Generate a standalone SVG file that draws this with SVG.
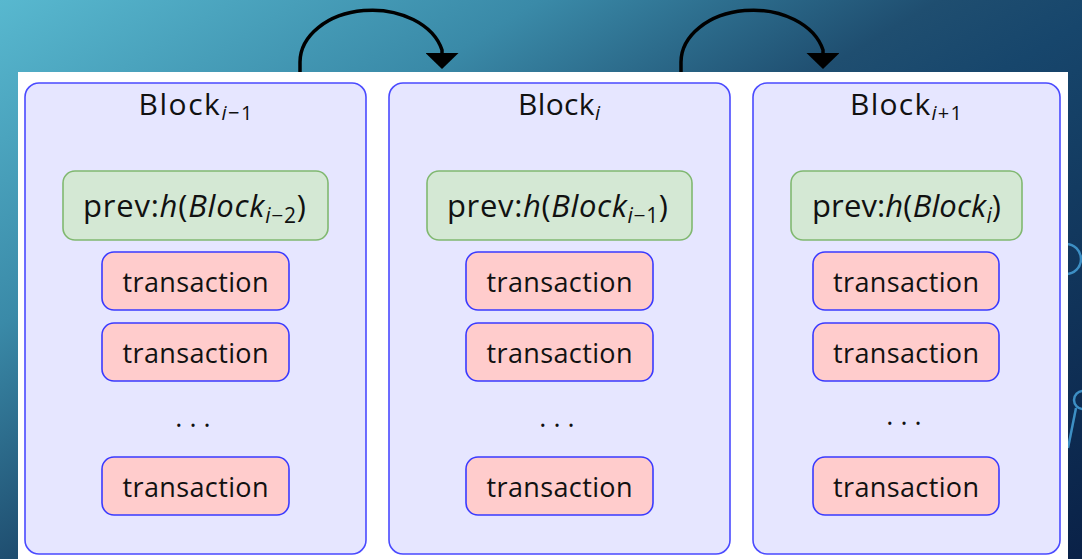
<svg xmlns="http://www.w3.org/2000/svg" width="1082" height="559" viewBox="0 0 1082 559">
<defs>
<linearGradient id="bg" gradientUnits="userSpaceOnUse" x1="0" y1="0" x2="529" y2="882">
<stop offset="0" stop-color="#58b8cf"/>
<stop offset="0.27" stop-color="#3a8aa8"/>
<stop offset="0.47" stop-color="#1f4e70"/>
<stop offset="0.56" stop-color="#17466c"/>
<stop offset="1" stop-color="#0a2248"/>
</linearGradient>
<marker id="ah" viewBox="0 0 16 33" refX="0" refY="16.5" markerWidth="16" markerHeight="33" markerUnits="userSpaceOnUse" orient="auto">
<path d="M0,0 L16,16.5 L0,33 z" fill="#000"/>
</marker>
<style>
.blk{fill:#e6e6ff;stroke:#4a4aff;stroke-width:1.6}
.grn{fill:#d4e8d4;stroke:#80b870;stroke-width:1.6}
.trx{fill:#ffcccc;stroke:#3a3aff;stroke-width:1.6}
text{font-family:"Open Sans",Lato,"DejaVu Sans",sans-serif;fill:#111;text-anchor:middle;font-variant-ligatures:none}
.ttl{font-size:30px}
.prv{font-size:31px}
.tx{font-size:27px}
.it{font-style:italic}
.arc{fill:none;stroke:#000;stroke-width:3.5}
.deco{fill:none;stroke:#3d8fc4;stroke-width:2.5}
</style>
</defs>
<rect x="0" y="0" width="1082" height="559" fill="url(#bg)"/>
<circle class="deco" cx="1066" cy="259" r="15"/>
<circle class="deco" cx="1083" cy="400" r="9"/>
<line class="deco" x1="1076" y1="408" x2="1068" y2="448"/>
<rect x="18" y="72" width="1050" height="487" fill="#fff"/>

<g id="connectors">
<path class="arc" d="M300,72 L300,62 A72,52 0 0 1 442,50 L442,53" marker-end="url(#ah)"/>
<path class="arc" d="M681,72 L681,62 A72,52 0 0 1 823,50 L823,53" marker-end="url(#ah)"/>
</g>

<g id="block1">
<rect class="blk" x="25" y="83" width="341" height="471" rx="14"/>
<text class="ttl" x="195.5" y="115" textLength="114" lengthAdjust="spacing">Block<tspan class="it" font-size="20" dy="5">i</tspan><tspan font-size="20">−1</tspan></text>
<g id="prev1">
<rect class="grn" x="63" y="171" width="265" height="69" rx="12"/>
<text class="prv" x="194.5" y="217" textLength="223" lengthAdjust="spacing">prev:<tspan class="it">h</tspan>(<tspan class="it">Block</tspan><tspan class="it" font-size="21" dy="6">i</tspan><tspan font-size="21">−2</tspan><tspan dy="-6">)</tspan></text>
</g>
<g id="tx1a"><rect class="trx" x="102" y="252" width="187" height="58" rx="12"/><text class="tx" x="195.5" y="292" textLength="146" lengthAdjust="spacing">transaction</text></g>
<g id="tx1b"><rect class="trx" x="102" y="323" width="187" height="58" rx="12"/><text class="tx" x="195.5" y="363" textLength="146" lengthAdjust="spacing">transaction</text></g>
<text class="tx" x="193" y="427">. . .</text>
<g id="tx1c"><rect class="trx" x="102" y="457" width="187" height="58" rx="12"/><text class="tx" x="195.5" y="497" textLength="146" lengthAdjust="spacing">transaction</text></g>
</g>

<g id="block2">
<rect class="blk" x="389" y="83" width="341" height="471" rx="14"/>
<text class="ttl" x="559" y="115" textLength="82" lengthAdjust="spacing">Block<tspan class="it" font-size="20" dy="5">i</tspan></text>
<g id="prev2">
<rect class="grn" x="427" y="171" width="265" height="69" rx="12"/>
<text class="prv" x="557.5" y="217" textLength="221" lengthAdjust="spacing">prev:<tspan class="it">h</tspan>(<tspan class="it">Block</tspan><tspan class="it" font-size="21" dy="6">i</tspan><tspan font-size="21">−1</tspan><tspan dy="-6">)</tspan></text>
</g>
<g id="tx2a"><rect class="trx" x="466" y="252" width="187" height="58" rx="12"/><text class="tx" x="559.5" y="292" textLength="146" lengthAdjust="spacing">transaction</text></g>
<g id="tx2b"><rect class="trx" x="466" y="323" width="187" height="58" rx="12"/><text class="tx" x="559.5" y="363" textLength="146" lengthAdjust="spacing">transaction</text></g>
<text class="tx" x="557" y="427">. . .</text>
<g id="tx2c"><rect class="trx" x="466" y="457" width="187" height="58" rx="12"/><text class="tx" x="559.5" y="497" textLength="146" lengthAdjust="spacing">transaction</text></g>
</g>

<g id="block3">
<rect class="blk" x="753" y="83" width="307" height="471" rx="14"/>
<text class="ttl" x="906" y="115" textLength="112" lengthAdjust="spacing">Block<tspan class="it" font-size="20" dy="5">i</tspan><tspan font-size="20">+1</tspan></text>
<g id="prev3">
<rect class="grn" x="791" y="171" width="231" height="69" rx="12"/>
<text class="prv" x="906.5" y="217" textLength="189" lengthAdjust="spacing">prev:<tspan class="it">h</tspan>(<tspan class="it">Block</tspan><tspan class="it" font-size="21" dy="6">i</tspan><tspan dy="-6">)</tspan></text>
</g>
<g id="tx3a"><rect class="trx" x="813" y="252" width="186" height="58" rx="12"/><text class="tx" x="906" y="292" textLength="146" lengthAdjust="spacing">transaction</text></g>
<g id="tx3b"><rect class="trx" x="813" y="323" width="186" height="58" rx="12"/><text class="tx" x="906" y="363" textLength="146" lengthAdjust="spacing">transaction</text></g>
<text class="tx" x="904" y="425">. . .</text>
<g id="tx3c"><rect class="trx" x="813" y="457" width="186" height="58" rx="12"/><text class="tx" x="906" y="497" textLength="146" lengthAdjust="spacing">transaction</text></g>
</g>
</svg>
